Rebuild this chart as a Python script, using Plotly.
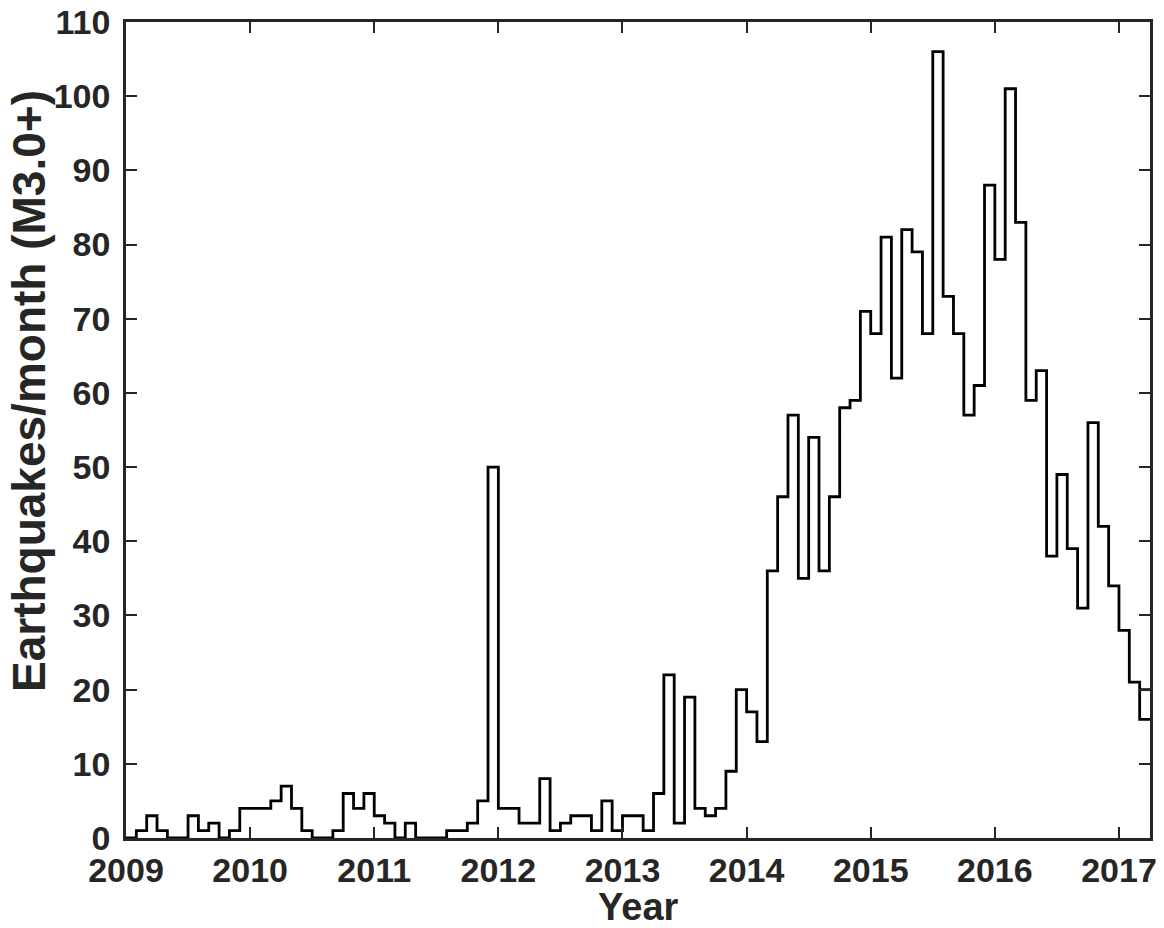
import plotly.graph_objects as go

# Monthly counts of M3.0+ earthquakes, Jan 2009 .. Mar 2017
start_year = 2009
counts_2009 = [0, 1, 3, 1, 0, 0, 3, 1, 2, 0, 1, 4]
counts_2010 = [4, 4, 5, 7, 4, 1, 0, 0, 1, 6, 4, 6]
counts_2011 = [3, 2, 0, 2, 0, 0, 0, 1, 1, 2, 5, 50]
counts_2012 = [4, 4, 2, 2, 8, 1, 2, 3, 3, 1, 5, 1]
counts_2013 = [3, 3, 1, 6, 22, 2, 19, 4, 3, 4, 9, 20]
counts_2014 = [17, 13, 36, 46, 57, 35, 54, 36, 46, 58, 59, 71]
counts_2015 = [68, 81, 62, 82, 79, 68, 106, 73, 68, 57, 61, 88]
counts_2016 = [78, 101, 83, 59, 63, 38, 49, 39, 31, 56, 42, 34]
counts_2017 = [28, 21, 16]
last_month_upper = 20  # second level drawn over the final month

year_ticks = [2009, 2010, 2011, 2012, 2013, 2014, 2015, 2016, 2017]
y_ticks = [0, 10, 20, 30, 40, 50, 60, 70, 80, 90, 100, 110]

counts = (counts_2009 + counts_2010 + counts_2011 + counts_2012 + counts_2013
          + counts_2014 + counts_2015 + counts_2016 + counts_2017)
n = len(counts)
x = [start_year + i / 12 for i in range(n)] + [start_year + n / 12]
y = counts + [counts[-1]]

ink = "#262626"
FONT = "Liberation Sans"
fig = go.Figure()
fig.add_trace(go.Scatter(x=x, y=y, mode="lines", line=dict(shape="hv", color="black", width=2.8),
                         showlegend=False, hoverinfo="skip"))
fig.add_trace(go.Scatter(x=[x[-2], x[-1]], y=[last_month_upper, last_month_upper], mode="lines",
                         line=dict(color="black", width=2.8), showlegend=False, hoverinfo="skip"))

axis_common = dict(showline=True, linecolor=ink, linewidth=2.5, mirror="ticks", ticks="inside",
                   ticklen=11, tickwidth=2, tickcolor=ink, showgrid=False, zeroline=False,
                   automargin=False, ticklabeloverflow="allow",
                   tickfont=dict(family=FONT, size=34, color=ink, weight="bold"))
fig.update_xaxes(range=[start_year, start_year + n / 12], tickvals=year_ticks,
                 ticktext=[str(v) for v in year_ticks], ticklabelstandoff=0, **axis_common)
fig.update_yaxes(range=[0, 110], tickvals=y_ticks, ticktext=[str(v) for v in y_ticks],
                 ticklabelstandoff=6, **axis_common)

W, H = 1164, 928
ml, mr, mt, mb = 126, 14, 22, 90
pw = W - ml - mr
ph = H - mt - mb

def px_to_paper_x(px):
    return (px - ml) / pw

def px_to_paper_y(py):
    return (H - mb - py) / ph

fig.add_annotation(text="Year", xref="paper", yref="paper", x=0.5, y=px_to_paper_y(907),
                   xanchor="center", yanchor="middle", showarrow=False,
                   font=dict(family=FONT, size=38, color=ink, weight="bold"))
fig.add_annotation(text="Earthquakes/month (M3.0+)", xref="paper", yref="paper",
                   x=px_to_paper_x(29), y=px_to_paper_y(391), textangle=-90,
                   xanchor="center", yanchor="middle", showarrow=False,
                   font=dict(family=FONT, size=46, color=ink, weight="bold"))

fig.update_layout(width=W, height=H, margin=dict(l=ml, r=mr, t=mt, b=mb),
                  paper_bgcolor="white", plot_bgcolor="white",
                  font=dict(family=FONT, color=ink))
fig.write_html("out.html", config={"displayModeBar": False},
               post_script="document.body.style.margin='0px';document.body.style.overflow='hidden';")
